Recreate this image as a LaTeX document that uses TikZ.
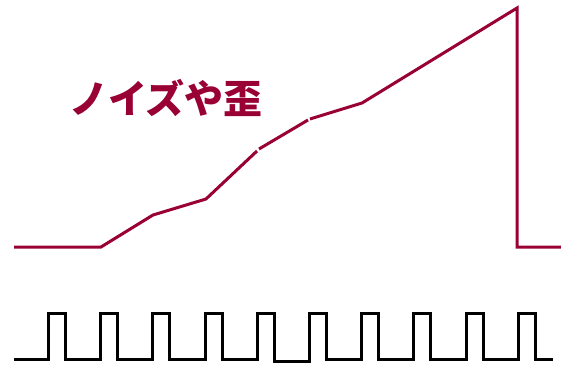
\documentclass[tikz,border=0pt]{standalone}
\usepackage{fontspec}
\newfontfamily\cjk{Noto Sans CJK JP}
\definecolor{wine}{RGB}{153,0,51}
\begin{document}
\begin{tikzpicture}[x=1pt,y=-1pt,
  ramp/.style={draw=wine,line width=3pt,line join=miter},
  clk/.style={draw=black,line width=3pt,line join=miter},
  lbl/.style={text=wine,font=\cjk\bfseries\fontsize{39}{42}\selectfont,inner sep=0pt}]
\useasboundingbox (0,0) rectangle (561,389);
% ramp coordinates
\coordinate (r0) at (14,247);
\coordinate (r1) at (101,247);
\coordinate (r2) at (153,215);
\coordinate (r3) at (206,199);
\coordinate (r4) at (257,151);
\coordinate (r4b) at (259,149);
\coordinate (r5) at (308,120);
\coordinate (r5b) at (310,119);
\coordinate (r6) at (362,103);
\coordinate (r7) at (517,8);
\coordinate (r8) at (517,247);
\coordinate (r9) at (561,247);
\draw[ramp] (r0) -- (r1) -- (r2) -- (r3) -- (r4);
\draw[ramp] (r4b) -- (r5);
\draw[ramp] (r5b) -- (r6) -- (r7) -- (r8) -- (r9);
\node[lbl] (noise) at (166,98) {ノイズや歪};
% clock
\coordinate (c0) at (14,359);
\coordinate (c1) at (553,359);
\draw[clk] (c0)
  -- (48,359) -- (48,313) -- (65,313) -- (65,359)
  -- (100,359) -- (100,313) -- (117,313) -- (117,359)
  -- (152,359) -- (152,313) -- (169,313) -- (169,359)
  -- (205,359) -- (205,313) -- (222,313) -- (222,359)
  -- (257,359) -- (257,313) -- (274,313) -- (274,361)
  -- (309,361) -- (309,313) -- (326,313) -- (326,359)
  -- (361,359) -- (361,313) -- (378,313) -- (378,359)
  -- (413,359) -- (413,313) -- (430,313) -- (430,359)
  -- (466,359) -- (466,313) -- (483,313) -- (483,359)
  -- (518,359) -- (518,313) -- (535,313) -- (535,359)
  -- (c1);
\end{tikzpicture}
\end{document}
